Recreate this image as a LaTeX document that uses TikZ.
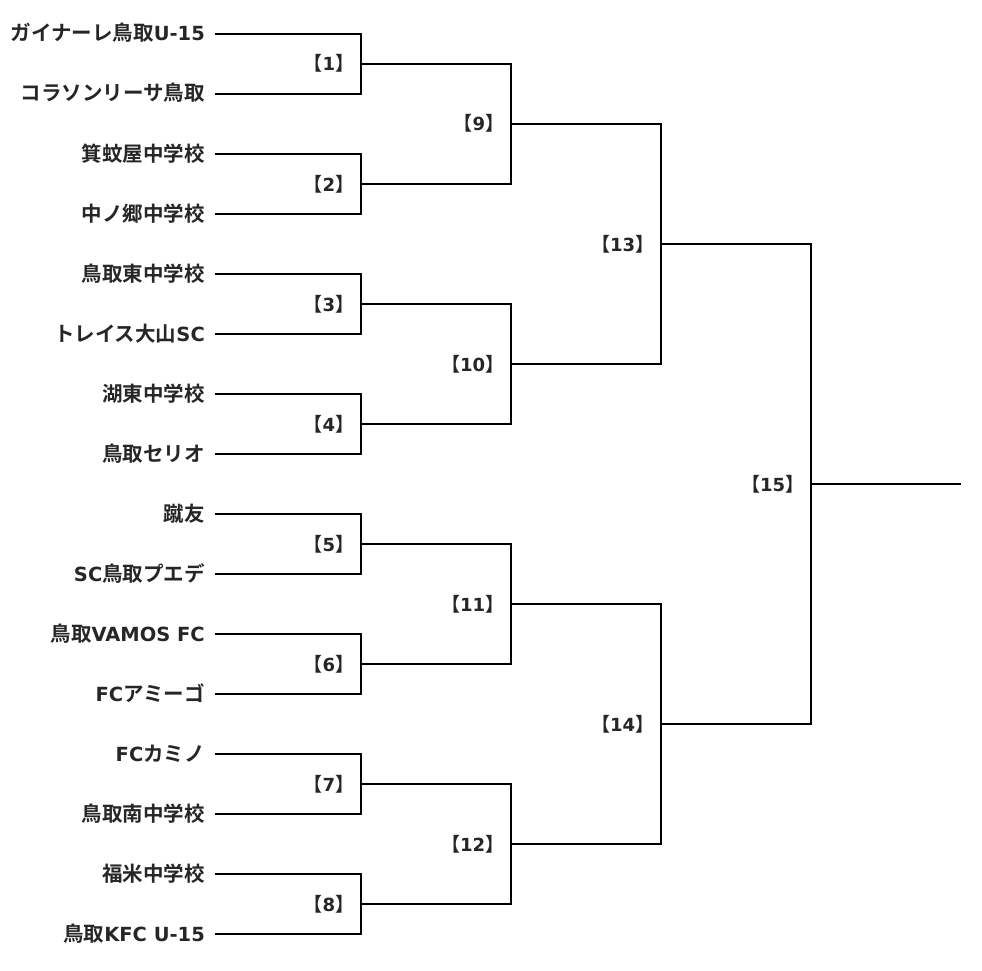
\documentclass[tikz,border=0pt]{standalone}
\usepackage{fontspec}
\setmainfont{DejaVu Sans}[Scale=0.95,BoldFont={DejaVu Sans Bold}]
\newfontfamily\jp{Noto Sans CJK JP}[BoldFont={* Bold}]
\newcommand{\mlab}[1]{\makebox[0.42em][r]{\jp\bfseries【}#1\makebox[0.42em][l]{\jp\bfseries】}}
\begin{document}
\begin{tikzpicture}[x=1pt,y=-1pt,
  line/.style={line width=2pt,line join=miter,black},
  team/.style={anchor=base east,inner sep=0pt,font=\fontsize{20.5}{24}\selectfont\bfseries,text=black!85},
  mlabel/.style={anchor=base east,inner sep=0pt,font=\fontsize{19}{23}\selectfont\bfseries,text=black!85}]
\useasboundingbox (0,0) rectangle (982,971);
% team line starts
\foreach \i in {1,...,16}{
  \coordinate (t\i) at (215,{34+60*(\i-1)});
}
% team names
\node[team] (n1)  at (205,41)  {{\jp ガイナーレ鳥取}U-15};
\node[team] (n2)  at (205,101) {{\jp コラソンリーサ鳥取}};
\node[team] (n3)  at (205,161) {{\jp 箕蚊屋中学校}};
\node[team] (n4)  at (205,221) {{\jp 中ノ郷中学校}};
\node[team] (n5)  at (205,281) {{\jp 鳥取東中学校}};
\node[team] (n6)  at (205,341) {{\jp トレイス大山}SC};
\node[team] (n7)  at (205,401) {{\jp 湖東中学校}};
\node[team] (n8)  at (205,461) {{\jp 鳥取セリオ}};
\node[team] (n9)  at (205,521) {{\jp 蹴友}};
\node[team] (n10) at (205,581) {SC{\jp 鳥取プエデ}};
\node[team] (n11) at (205,641) {{\jp 鳥取}VAMOS FC};
\node[team] (n12) at (205,701) {FC{\jp アミーゴ}};
\node[team] (n13) at (205,761) {FC{\jp カミノ}};
\node[team] (n14) at (205,821) {{\jp 鳥取南中学校}};
\node[team] (n15) at (205,881) {{\jp 福米中学校}};
\node[team] (n16) at (205,941) {{\jp 鳥取}KFC U-15};
% match junctions
\foreach \k in {1,...,8}{
  \coordinate (m\k) at (361,{64+120*(\k-1)});
}
\foreach \k in {9,...,12}{
  \coordinate (m\k) at (511,{124+240*(\k-9)});
}
\coordinate (m13) at (661,244);
\coordinate (m14) at (661,724);
\coordinate (m15) at (811,484);
\coordinate (win) at (961,484);
% round 1
\draw[line] (t1) -| (m1) |- (t2);
\draw[line] (t3) -| (m2) |- (t4);
\draw[line] (t5) -| (m3) |- (t6);
\draw[line] (t7) -| (m4) |- (t8);
\draw[line] (t9) -| (m5) |- (t10);
\draw[line] (t11) -| (m6) |- (t12);
\draw[line] (t13) -| (m7) |- (t14);
\draw[line] (t15) -| (m8) |- (t16);
% round 2
\draw[line] (m1) -| (m9) |- (m2);
\draw[line] (m3) -| (m10) |- (m4);
\draw[line] (m5) -| (m11) |- (m6);
\draw[line] (m7) -| (m12) |- (m8);
% round 3
\draw[line] (m9) -| (m13) |- (m10);
\draw[line] (m11) -| (m14) |- (m12);
% final
\draw[line] (m13) -| (m15) |- (m14);
\draw[line] (m15) -- (win);
% match labels
\foreach \k in {1,...,8}{
  \node[mlabel] (l\k) at (343,{71+120*(\k-1)}) {\mlab{\k}};
}
\foreach \k in {9,...,12}{
  \node[mlabel] (l\k) at (493,{131+240*(\k-9)}) {\mlab{\k}};
}
\node[mlabel] (l13) at (643,251) {\mlab{13}};
\node[mlabel] (l14) at (643,731) {\mlab{14}};
\node[mlabel] (l15) at (793,491) {\mlab{15}};
\end{tikzpicture}
\end{document}
